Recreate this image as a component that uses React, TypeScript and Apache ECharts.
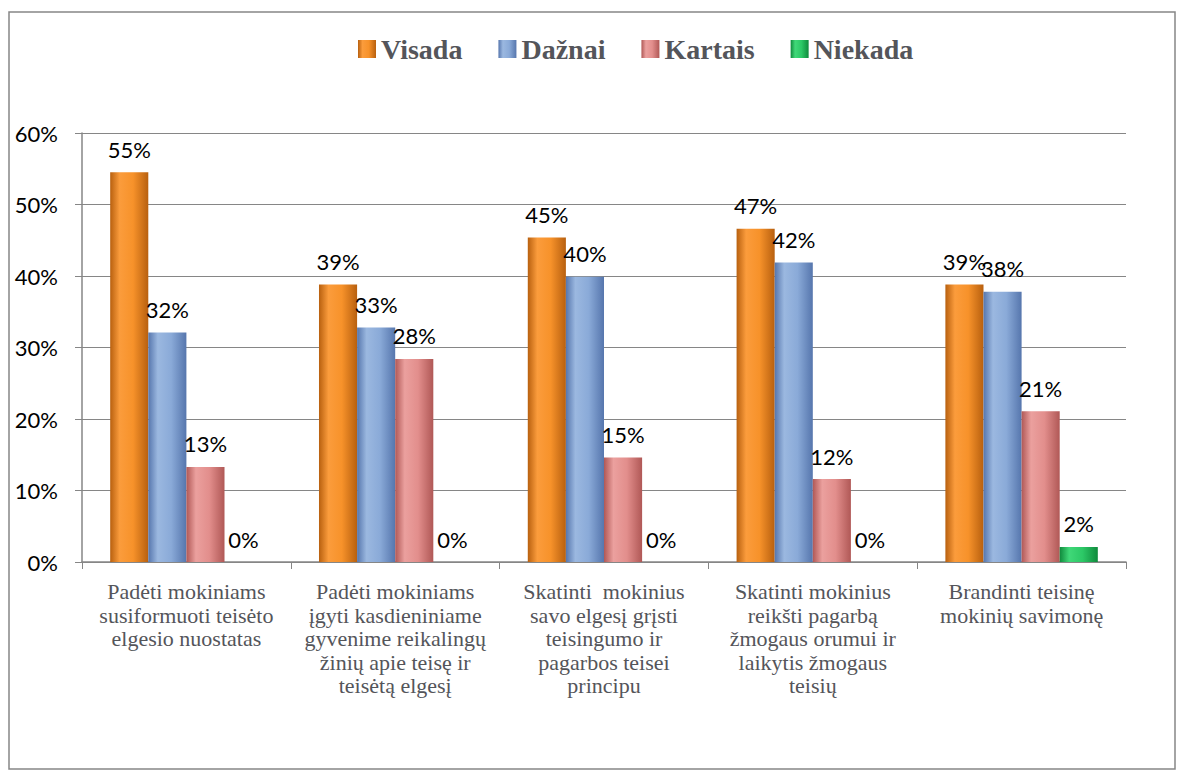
import React, { useEffect, useRef } from "react";
import * as echarts from "echarts";

const categories = [
  "Padėti mokiniams\nsusiformuoti teisėto\nelgesio nuostatas",
  "Padėti mokiniams\nįgyti kasdieniniame\ngyvenime reikalingų\nžinių apie teisę ir\nteisėtą elgesį",
  "Skatinti  mokinius\nsavo elgesį grįsti\nteisingumo ir\npagarbos teisei\nprincipu",
  "Skatinti mokinius\nreikšti pagarbą\nžmogaus orumui ir\nlaikytis žmogaus\nteisių",
  "Brandinti teisinę\nmokinių savimonę",
];
const seriesNames = ["Visada", "Dažnai", "Kartais", "Niekada"];
const visada = [54.5, 38.8, 45.4, 46.6, 38.8];
const daznai = [32.1, 32.8, 39.9, 41.9, 37.8];
const kartais = [13.3, 28.4, 14.6, 11.6, 21.1];
const niekada = [0, 0, 0, 0, 2.1];
const yTicks = [0, 10, 20, 30, 40, 50, 60];

const palette = [
  { edge: "#b8600f", mid: "#f7922a", light: "#fb9c3c" },
  { edge: "#5676ad", mid: "#8aaad8", light: "#9bb8e0" },
  { edge: "#b05856", mid: "#e28e8c", light: "#eba09e" },
  { edge: "#0f8a3c", mid: "#2cc866", light: "#40d878" },
];

const SERIF = "Liberation Serif";

function grad(p: { edge: string; mid: string; light: string }) {
  return new echarts.graphic.LinearGradient(0, 0, 1, 0, [
    { offset: 0, color: p.edge },
    { offset: 0.25, color: p.light },
    { offset: 0.6, color: p.mid },
    { offset: 1, color: p.edge },
  ]);
}

export default function App() {
  const ref = useRef<HTMLDivElement>(null);
  useEffect(() => {
    if (!ref.current) return;
    const chart = echarts.init(ref.current, undefined, { renderer: "svg" });
    const datas = [visada, daznai, kartais, niekada];
    const gray = "#868686";
    chart.setOption({
      animation: false,
      backgroundColor: "#ffffff",
      graphic: [
        {
          type: "rect",
          shape: { x: 9, y: 12, width: 1166, height: 757 },
          style: { fill: "none", stroke: gray, lineWidth: 1.5 },
          silent: true,
        },
      ],
      legend: {
        left: 353,
        top: 30,
        itemWidth: 18,
        itemHeight: 18,
        itemGap: 36,
        icon: "rect",
        textStyle: {
          fontFamily: SERIF,
          fontWeight: "bold",
          fontSize: 28,
        },
        data: seriesNames,
      },
      grid: { left: 82, right: 58, top: 133, bottom: 214, containLabel: false },
      xAxis: {
        type: "category",
        data: categories,
        axisLine: { show: true, lineStyle: { color: gray, width: 1.5 } },
        axisTick: { show: true, length: 7, lineStyle: { color: gray } },
        axisLabel: {
          interval: 0,
          margin: 18,
          fontFamily: SERIF,
          fontSize: 22,
          lineHeight: 23.5,
          align: "center",
        },
      },
      yAxis: {
        type: "value",
        min: yTicks[0],
        max: yTicks[yTicks.length - 1],
        interval: 10,
        axisLine: { show: true, lineStyle: { color: gray, width: 1.5 } },
        axisTick: { show: true, length: 7, lineStyle: { color: gray } },
        splitLine: { show: true, lineStyle: { color: gray, width: 1.2 } },
        axisLabel: {
          margin: 24,
          fontFamily: "Lato",
          fontSize: 22,
          color: "#000",
          formatter: "{value}%",
        },
      },
      series: seriesNames.map((name, i) => ({
        name,
        type: "bar",
        data: datas[i],
        barGap: "0%",
        barCategoryGap: "27%",
        itemStyle: { color: grad(palette[i]) },
        label: {
          show: true,
          position: "top",
          distance: 12,
          fontFamily: "Lato",
          fontSize: 22,
          color: "#000",
          formatter: (p: any) => Math.round(p.value) + "%",
        },
      })),
    });
    return () => chart.dispose();
  }, []);
  return (
    <div
      style={{ position: "fixed", left: 0, top: 0, width: 1184, height: 776, background: "#fff" }}
    >
      <div ref={ref} style={{ width: 1184, height: 776 }} />
    </div>
  );
}
